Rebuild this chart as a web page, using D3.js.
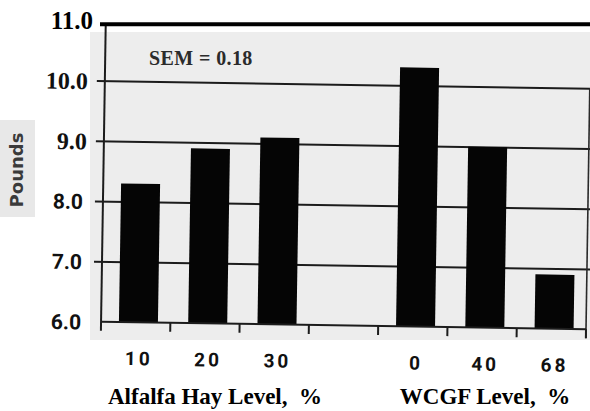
<!DOCTYPE html>
<html>
<head>
<meta charset="utf-8">
<script src="https://cdn.jsdelivr.net/npm/d3@7"></script>
<style>
  body { margin: 0; background: #fff; }
  svg { display: block; }
</style>
</head>
<body>
<div id="chart"></div>
<script>
// DATA
const alfalfaLevels = [`10`, `20`, `30`];
const alfalfaPounds = [8.3, 8.9, 9.1];
const wcgfLevels = [`0`, `40`, `68`];
const wcgfPounds = [10.3, 9.0, 6.9];
const yTicks = [6, 7, 8, 9, 10];
const yGridTicks = [7, 8, 9, 10];
const yTop = 11;
const serifTickValues = [9, 10];
const sem = `SEM = 0.18`;

// LAYOUT
const WIDTH = 590;
const HEIGHT = 411;
const plotLeft = 103;
const plotRight = 588;
const tilt = 0.9; // scanned page is a little rotated

const bars = [
  ...alfalfaLevels.map((l, i) => ({ key: `alfalfa-${l}`, label: l, value: alfalfaPounds[i] })),
  ...wcgfLevels.map((l, i) => ({ key: `wcgf-${l}`, label: l, value: wcgfPounds[i] }))
];
const slots = [...alfalfaLevels.map(l => `alfalfa-${l}`), `gap`, ...wcgfLevels.map(l => `wcgf-${l}`)];

const svg = d3.select(`#chart`)
  .append(`svg`)
  .attr(`width`, WIDTH)
  .attr(`height`, HEIGHT);

// SCALES
const x = d3.scaleBand()
  .domain(slots)
  .range([plotLeft, plotRight])
  .paddingInner(0.437)
  .paddingOuter(0.2185)
  .align(0.59);

const y = d3.scaleLinear()
  .domain([6, yTop])
  .range([325.5, 24.25]);

// scan background
svg.append(`rect`)
  .attr(`x`, 90).attr(`y`, 32)
  .attr(`width`, WIDTH - 90).attr(`height`, 308)
  .attr(`fill`, `#ededed`);

svg.append(`rect`)
  .attr(`x`, 0).attr(`y`, 120)
  .attr(`width`, 35).attr(`height`, 97)
  .attr(`fill`, `#e8e8e8`);

const plot = svg.append(`g`)
  .attr(`transform`, `rotate(${tilt}, 345, 200)`);

// GRID
const grid = plot.append(`g`)
  .attr(`transform`, `translate(${plotLeft - 8}, 0)`)
  .call(d3.axisLeft(y).tickValues(yGridTicks).tickSize(-(WIDTH - plotLeft + 10)).tickFormat(``));
grid.select(`.domain`).remove();
grid.selectAll(`.tick line`).attr(`stroke`, `#1c1c1c`).attr(`stroke-width`, 2);

// BARS
plot.selectAll(`.bar`)
  .data(bars)
  .enter()
  .append(`rect`)
  .attr(`class`, `bar`)
  .attr(`x`, d => x(d.key))
  .attr(`y`, d => y(d.value))
  .attr(`width`, x.bandwidth())
  .attr(`height`, d => y(6) - y(d.value))
  .attr(`fill`, `#050505`);

// Y AXIS LABELS
const yAxis = plot.append(`g`)
  .attr(`transform`, `translate(${plotLeft}, 0)`)
  .call(d3.axisLeft(y).tickValues(yTicks).tickSize(0).tickFormat(d3.format(`.1f`)));
yAxis.select(`.domain`).remove();
yAxis.selectAll(`.tick text`)
  .attr(`fill`, `#111`)
  .attr(`font-weight`, `bold`)
  .attr(`font-family`, d => serifTickValues.includes(d) ? `Liberation Serif` : `Roboto`)
  .attr(`font-size`, d => serifTickValues.includes(d) ? 24 : 21)
  .attr(`x`, d => serifTickValues.includes(d) ? -17 : -20)
  .attr(`dy`, d => serifTickValues.includes(d) ? `0.34em` : `0.36em`);

// axis lines
plot.append(`line`)
  .attr(`x1`, plotLeft).attr(`x2`, plotLeft)
  .attr(`y1`, y(yTop) + 3).attr(`y2`, y(6) + 9)
  .attr(`stroke`, `#1c1c1c`).attr(`stroke-width`, 2);

plot.append(`line`)
  .attr(`x1`, plotRight).attr(`x2`, plotRight)
  .attr(`y1`, y(10)).attr(`y2`, y(6) + 9)
  .attr(`stroke`, `#2a2a2a`).attr(`stroke-width`, 1.6);

plot.append(`line`)
  .attr(`x1`, plotLeft).attr(`x2`, plotRight)
  .attr(`y1`, y(6)).attr(`y2`, y(6))
  .attr(`stroke`, `#1c1c1c`).attr(`stroke-width`, 2);

const slotEdges = slots.map((s, i) => plotLeft + (i + 1) * x.step());
plot.selectAll(`.x-tick`)
  .data(slotEdges)
  .enter()
  .append(`line`)
  .attr(`class`, `x-tick`)
  .attr(`x1`, d => d).attr(`x2`, d => d)
  .attr(`y1`, y(6)).attr(`y2`, y(6) + 9)
  .attr(`stroke`, `#1c1c1c`).attr(`stroke-width`, 2);

// category labels
plot.selectAll(`.x-label`)
  .data(bars)
  .enter()
  .append(`text`)
  .attr(`class`, `x-label`)
  .attr(`x`, d => x(d.key) + x.bandwidth() / 2 + 1)
  .attr(`y`, y(6) + 43)
  .attr(`text-anchor`, `middle`)
  .attr(`font-family`, `Roboto`)
  .attr(`font-weight`, `bold`)
  .attr(`font-size`, 19)
  .attr(`letter-spacing`, 3)
  .attr(`fill`, `#111`)
  .text(d => d.label);

// TOP LINE + 11.0
svg.append(`line`)
  .attr(`x1`, 100).attr(`x2`, WIDTH)
  .attr(`y1`, y(yTop)).attr(`y2`, y(yTop))
  .attr(`stroke`, `#000`).attr(`stroke-width`, 4);

svg.append(`text`)
  .attr(`x`, 93)
  .attr(`y`, y(yTop) + 5)
  .attr(`text-anchor`, `end`)
  .attr(`font-family`, `Liberation Serif`)
  .attr(`font-weight`, `bold`)
  .attr(`font-size`, 25)
  .attr(`fill`, `#000`)
  .text(d3.format(`.1f`)(yTop));

// SEM note
svg.append(`text`)
  .attr(`x`, 149)
  .attr(`y`, 65)
  .attr(`font-family`, `Liberation Serif`)
  .attr(`font-weight`, `bold`)
  .attr(`font-size`, 20)
  .attr(`letter-spacing`, 0.4)
  .attr(`fill`, `#2b2b2b`)
  .text(sem);

// AXIS TITLES
const titles = [
  { text: `Alfalfa Hay Level,  %`, cx: 215 },
  { text: `WCGF Level,  %`, cx: 485 }
];
svg.selectAll(`.x-title`)
  .data(titles)
  .enter()
  .append(`text`)
  .attr(`class`, `x-title`)
  .attr(`x`, d => d.cx)
  .attr(`y`, 404)
  .attr(`text-anchor`, `middle`)
  .attr(`font-family`, `Liberation Serif`)
  .attr(`font-weight`, `bold`)
  .attr(`font-size`, 23)
  .attr(`fill`, `#000`)
  .style(`white-space`, `pre`)
  .text(d => d.text);

svg.append(`text`)
  .attr(`transform`, `translate(23, 170) rotate(-90)`)
  .attr(`text-anchor`, `middle`)
  .attr(`font-family`, `DejaVu Sans`)
  .attr(`font-weight`, `bold`)
  .attr(`font-size`, 18)
  .attr(`fill`, `#3a3a3a`)
  .text(`Pounds`);
</script>
</body>
</html>
